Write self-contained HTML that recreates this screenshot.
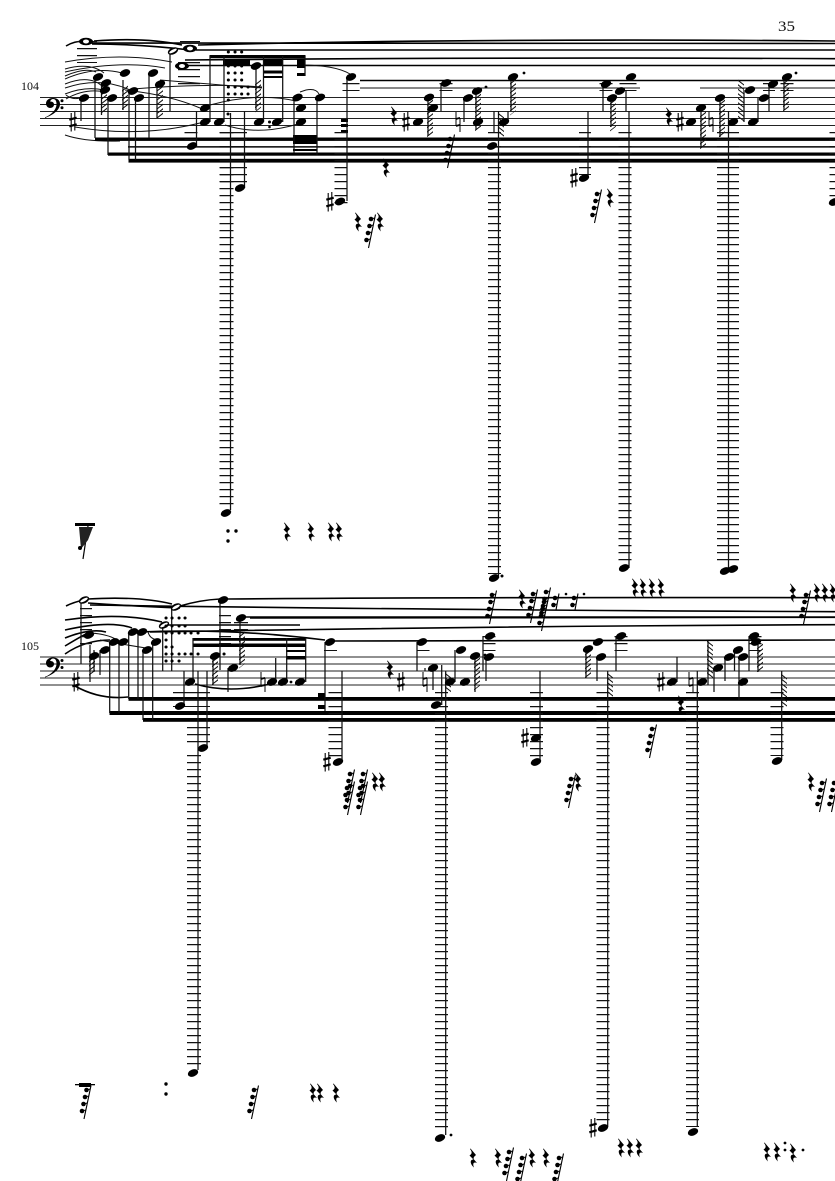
<!DOCTYPE html>
<html><head><meta charset="utf-8"><style>
html,body{margin:0;padding:0;background:#fff;width:835px;height:1181px;overflow:hidden}
svg{display:block}
.s{stroke:#111;stroke-width:1.25;fill:none}
.st{stroke:#222;stroke-width:1.1;fill:none}
.b{fill:#000}
.t{stroke:#111;stroke-width:1;fill:none}
.tt{stroke:#000;stroke-width:1.6;fill:none}
.l{stroke:#111;stroke-width:1.25;stroke-dasharray:1.25 5.75;fill:none}
.h{stroke:#111;stroke-width:6;stroke-dasharray:1.3 3.2;fill:none}
text{font-family:"Liberation Serif",serif;fill:#111}
</style></head><body>
<svg width="835" height="1181" viewBox="0 0 835 1181" xmlns="http://www.w3.org/2000/svg">
<defs>
<ellipse id="n" rx="5.400" ry="3.500" transform="rotate(-22)"/>
<g id="w"><ellipse rx="7" ry="3.700" fill="#000"/><ellipse rx="3" ry="2" fill="#fff"/></g>
<g id="hf"><ellipse rx="5.500" ry="3.300" transform="rotate(-25)" fill="#000"/><ellipse rx="4.200" ry="1.400" transform="rotate(-28)" fill="#fff"/></g>
<path id="r" d="M-2.500 -9.500L3 -3C1 -1.500 0 0 1 1.500L4 5C1.500 3.800 -1 4.500 1 9.500C-3 6 -3.500 1.500 .5 1.500L-3.500 -2.500C-1 -4 -.5 -6 -3 -9Z"/>
<g id="q"><path d="M5.500 -16.500L-1.500 17M4.800 -13L1 -12M3.300 -6L-.5 -5M1.800 1L-2 2M.3 8L-3.500 9" stroke="#000" stroke-width="1.100" fill="none"/><circle cx="1" cy="-12" r="2.300"/><circle cx="-.5" cy="-5" r="2.300"/><circle cx="-2" cy="2" r="2.300"/><circle cx="-3.500" cy="9" r="2.300"/></g>
<g id="q2"><path d="M3 -8.500L0 8M2.300 -5L-1 -4M.8 2L-2.500 3" stroke="#000" stroke-width="1.100" fill="none"/><circle cx="-1" cy="-4" r="2.300"/><circle cx="-2.500" cy="3" r="2.300"/></g>
<g id="sh" stroke="#000" fill="none"><path d="M-1.800 -9V9.500M1.800 -10V8.500" stroke-width="1.100"/><path d="M-3.700 -2.300L3.700 -4.300M-3.700 4.300L3.700 2.300" stroke-width="2.200"/></g>
<g id="na" stroke="#000" fill="none"><path d="M-2 -10V4M2 -4V10" stroke-width="1"/><path d="M-2 -3L2 -4.200M-2 4L2 2.800" stroke-width="1.800"/></g>
<path id="clef" d="M0 13C8 10 15 5 15 -1C15 -5 12 -7 8 -7C3 -7 1 -4 1 -1.500C1 1 3 3 5 3C7.500 3 9 1.500 9 -.5C9 -2.500 7.500 -3.500 5 -3.500C6 -5.500 7 -6 8 -6C10.500 -6 11.500 -4 11.500 -1C11.500 5 6 10 0 12.300Z"/>
</defs>

<text x="778" y="31" font-size="15" textLength="17" lengthAdjust="spacingAndGlyphs">35</text>
<text x="21" y="90" font-size="11.500" textLength="18" lengthAdjust="spacingAndGlyphs">104</text>
<text x="21" y="650" font-size="11.500" textLength="18" lengthAdjust="spacingAndGlyphs">105</text>

<!-- staves -->
<path class="st" d="M40 97.500H835M40 104.500H835M40 111.500H835M40 118.500H835M40 125.500H835"/>
<path class="st" d="M40 657H835M40 664H835M40 671H835M40 678H835M40 685H835"/>
<use href="#clef" x="45" y="105" class="b"/><circle cx="62" cy="100.800" r="1.500"/><circle cx="62" cy="107.800" r="1.500"/>
<use href="#clef" x="45" y="664.500" class="b"/><circle cx="62" cy="660.500" r="1.500"/><circle cx="62" cy="667.500" r="1.500"/>

<!-- long ties system 1 -->
<path class="tt" d="M198 45Q480 38 835 41M90 43Q420 43 835 43.500M196 50H835M185 60Q500 57 835 58.700M182 65.500H835M360 80.500H835"/>
<path class="t" d="M360 88H640M700 88H835"/>
<path class="tt" d="M66 46Q74 41 85 41M94 41Q145 37 182 45M92 44Q140 44 190 50"/>
<path class="t" d="M65 62Q120 52 172 62M65 69Q90 62 104 73M65 72Q120 60 165 68M65 76Q85 67 96 72M65 79Q95 66 122 73M65 84Q90 74 103 87M65 88Q100 76 130 90M65 94Q85 86 104 90M66 99Q85 88 105 92M66 95Q72 100 80 98M133 89Q210 83 262 87M160 80Q220 85 262 88M75 127Q140 138 200 123M65 135Q85 142 120 141M125 90Q170 95 200 108M210 105Q258 92 296 101M225 125Q258 136 298 124M300 65Q335 65 350 74M300 92L306 90M306 90Q316 88 319 94"/>
<!-- beams system 1 -->
<rect class="b" x="95" y="137.500" width="740" height="3.400"/>
<rect x="128" y="146" width="707" height="1.700" fill="#222"/>
<rect class="b" x="108" y="152.500" width="727" height="3.200"/>
<rect class="b" x="128.500" y="158.800" width="706.500" height="3.800"/>
<rect class="b" x="209.500" y="55" width="96" height="3.200"/>
<rect class="b" x="223" y="60" width="27" height="5"/>
<rect class="b" x="263" y="60" width="20" height="6"/>
<rect class="b" x="263" y="70.500" width="20" height="3"/>
<rect class="b" x="263" y="76" width="20" height="2"/>
<rect class="b" x="297" y="59" width="8" height="9"/>
<rect class="b" x="297" y="73" width="8" height="3"/>
<rect class="b" x="293" y="135" width="24" height="9"/>
<rect class="b" x="293" y="149" width="24" height="2"/>
<rect class="b" x="341" y="119" width="7" height="3"/><rect class="b" x="341" y="124" width="7" height="3"/><rect class="b" x="341" y="130" width="7" height="3"/>
<!-- stems s1 -->
<path class="s" d="M81 98V121M95 77V138M108 98V155M129 91V160M135.500 98V160M149 73V138M170 51V111M196.500 111V146M210 56V122M224 56V122M230.500 113V510M244.500 111V188M263.500 56V122M282.700 56V122M305 56V76M294 97V153M317 97V155M347 77V201M441 83V111M464 98V122M498.500 111V578M494 111V132M588 111V178M603 84V111M626 91V111M629 111V568M728.500 111V570M744 90V122M758 98V122M769 84V111M508 111V122"/>
<!-- hash stems s1 -->
<path class="s" d="M101.500 83V115M123 80V110M157 84V118M428 97V136M476 91V130M511 77V111M611 98V127M701 108V148M720 98V137M784 77V110M256 66V110"/>
<g>
<path class="h" transform="translate(104,100) skewY(-38)" d="M0 -8V12"/>
<path class="h" transform="translate(125,98) skewY(-38)" d="M0 -10V12"/>
<path class="h" transform="translate(160,100) skewY(-38)" d="M0 -12V18"/>
<path class="h" transform="translate(430,120) skewY(-38)" d="M0 -18V17"/>
<path class="h" transform="translate(478,112) skewY(-38)" d="M0 -16V20"/>
<path class="h" transform="translate(513,95) skewY(-38)" d="M0 -14V18"/>
<path class="h" transform="translate(613,115) skewY(-38)" d="M0 -14V14"/>
<path class="h" transform="translate(703,130) skewY(-38)" d="M0 -16V19"/>
<path class="h" transform="translate(722,120) skewY(-38)" d="M0 -18V18"/>
<path class="h" transform="translate(786,95) skewY(-38)" d="M0 -14V17"/>
<path class="h" transform="translate(258,92) skewY(-38)" d="M0 -10V18"/>
<path class="h" transform="translate(741,100) skewY(38)" d="M0 -18V20"/>
<path class="h" transform="translate(501,125) skewY(38)" d="M0 -10V10"/>
</g>
<!-- ledgers s1 -->
<path class="l" style="stroke-width:20" d="M87 41V63"/>
<path class="l" style="stroke-width:20" d="M190 41V48"/>
<path class="l" style="stroke-width:22" d="M189 62V90"/>
<path class="l" style="stroke-width:13" d="M191 132V140"/>
<path class="l" style="stroke-width:14" d="M226.500 132V510"/>
<path class="l" style="stroke-width:27" d="M233.500 132V186"/>
<path class="l" style="stroke-width:17" d="M351 83V91"/>
<path class="l" style="stroke-width:13" d="M341 132V205"/>
<path class="l" style="stroke-width:13" d="M446 83V91"/>
<path class="l" style="stroke-width:13" d="M494.500 132V574"/>
<path class="l" style="stroke-width:12" d="M585 132V175"/>
<path class="l" style="stroke-width:13" d="M606 83V91"/>
<path class="l" style="stroke-width:17" d="M628 83V91"/>
<path class="l" style="stroke-width:13" d="M625 132V564"/>
<path class="l" style="stroke-width:22" d="M728 132V566"/>
<path class="l" style="stroke-width:12" d="M769 83V91"/>
<path class="l" style="stroke-width:13" d="M787 83V91"/>
<path class="l" style="stroke-width:13" d="M836 132V205"/>
<!-- notes s1 -->
<g class="b">
<use href="#n" x="98" y="77"/><use href="#n" x="106" y="83"/><use href="#n" x="105" y="90"/><use href="#n" x="125" y="73"/><use href="#n" x="133" y="91"/><use href="#n" x="153" y="73"/><use href="#n" x="160" y="84"/><use href="#n" x="84" y="98"/><use href="#n" x="112" y="98"/><use href="#n" x="139" y="98"/>
<use href="#n" x="205" y="108"/><use href="#n" x="205" y="122"/><use href="#n" x="219" y="122"/><use href="#n" x="192" y="146"/><use href="#n" x="240" y="188"/><use href="#n" x="226" y="513"/><use href="#n" x="256" y="66"/><use href="#n" x="259" y="122"/><use href="#n" x="277" y="122"/><use href="#n" x="297.500" y="97.500"/><use href="#n" x="301" y="108"/><use href="#n" x="301" y="122"/><use href="#n" x="320" y="97.500"/><use href="#n" x="351" y="77"/><use href="#n" x="340" y="201.500"/>
<use href="#n" x="418" y="122"/><use href="#n" x="429" y="97.500"/><use href="#n" x="433" y="108"/><use href="#n" x="446" y="83"/><use href="#n" x="468" y="98"/><use href="#n" x="477" y="91"/><use href="#n" x="478" y="122"/><use href="#n" x="504" y="122"/><use href="#n" x="492" y="146"/><use href="#n" x="513" y="77"/><use href="#n" x="494" y="578"/>
<use href="#n" x="584" y="178"/><use href="#n" x="606" y="84"/><use href="#n" x="620" y="91"/><use href="#n" x="631" y="77"/><use href="#n" x="612" y="98"/><use href="#n" x="624" y="568"/>
<use href="#n" x="691" y="122"/><use href="#n" x="701" y="108"/><use href="#n" x="720" y="98"/><use href="#n" x="733" y="122"/><use href="#n" x="725" y="571"/><use href="#n" x="733" y="569"/><use href="#n" x="750" y="90"/><use href="#n" x="753" y="122"/><use href="#n" x="764" y="98"/><use href="#n" x="773" y="84"/><use href="#n" x="787" y="77"/><use href="#n" x="834" y="202"/>
<circle cx="486" cy="87" r="1.400"/><circle cx="524" cy="73" r="1.400"/><circle cx="796" cy="73" r="1.400"/><circle cx="502" cy="576" r="1.500"/><circle cx="269.500" cy="122" r="1.500"/><circle cx="269.500" cy="127" r="1.300"/><circle cx="228" cy="114" r="1.500"/>
</g>
<use href="#w" x="86" y="41.500"/><use href="#w" x="190" y="48.500"/><use href="#hf" x="173" y="51"/><use href="#w" x="182" y="66"/>
<use href="#sh" x="73" y="122"/><use href="#sh" x="330" y="202"/><use href="#sh" x="406" y="122"/><use href="#sh" x="574" y="178"/><use href="#sh" x="680" y="122"/>
<use href="#na" x="458" y="122"/><use href="#na" x="711" y="122"/>
<g class="b">
<use href="#r" x="394" y="116"/><use href="#r" x="386" y="168"/><use href="#r" x="358" y="222"/><use href="#r" x="380" y="222"/><use href="#r" x="610" y="198"/><use href="#r" x="669" y="117"/>
<use href="#q" x="449" y="151"/><use href="#q" x="370" y="231"/><use href="#q" x="596" y="206"/>
<!-- dot grid s1 -->
<path d="M228.300 52h.1M235 52h.1M241.600 52h.1M228.300 73h.1M235 73h.1M241.600 73h.1M228.300 80h.1M235 80h.1M241.600 80h.1M228.300 87h.1M235 87h.1M241.600 87h.1M248 87h.1M228.300 94h.1M235 94h.1M241.600 94h.1M248 94h.1M228.300 100h.1M228.300 66h.1M235 66h.1M241.600 66h.1" stroke="#000" stroke-width="3" stroke-linecap="round" fill="none"/>
<!-- bottom of s1 -->
<rect x="75" y="523" width="20" height="3"/>
<path d="M88 526L83 559" stroke="#000" stroke-width="1.200"/>
<path d="M79 527L93 527L88 540L81 549Z" fill="#222"/>
<circle cx="80" cy="548" r="2"/>
<circle cx="228" cy="531" r="1.700"/><circle cx="236" cy="531" r="1.700"/><circle cx="228" cy="541" r="1.700"/>
<use href="#r" x="287" y="532"/><use href="#r" x="311" y="532"/><use href="#r" x="331" y="532"/><use href="#r" x="339" y="532"/>
</g>

<!-- long ties system 2 -->
<path class="tt" d="M180 606Q200 600 220 599M228 599Q500 597 835 597.700M90 605Q420 610 835 611.700M245 617H835M163 625H300M250 618Q500 618 835 617.300M150 632Q500 626 835 624.700M330 641L835 640"/>
<path class="tt" d="M66 606Q74 602 84 600M88 599Q140 596 172 604M88 603Q130 606 180 608M65 620Q120 612 162 622M65 630Q110 620 132 628M65 638Q90 628 106 632M65 646Q85 634 90 632M65 654Q85 640 110 640M75 686Q100 700 128 697M195 684Q230 694 270 684M138 632Q230 628 325 640"/>
<path class="t" d="M90 633Q110 634 120 642M100 640Q120 644 146 648M148 632Q150 640 160 640"/>
<!-- beams s2 -->
<rect class="b" x="128.500" y="697" width="706.500" height="3.800"/>
<rect class="b" x="109.500" y="711" width="725.500" height="4"/>
<rect class="b" x="143" y="718" width="692" height="3.800"/>
<rect class="b" x="193" y="638" width="113" height="2.800"/>
<rect class="b" x="193" y="643.500" width="113" height="3.500"/>
<rect class="b" x="286" y="650" width="20" height="2"/>
<rect class="b" x="286" y="656" width="20" height="3.500"/>
<rect class="b" x="318" y="693" width="7" height="7"/><rect class="b" x="318" y="705" width="7" height="4"/>
<!-- stems s2 -->
<path class="s" d="M81 600V664M90 645V682M100 650V675M109.700 642V713M119 642V713M128.700 632V699M138 632V699M143 650V720M152.700 642V720M162.700 625V671M171.700 607V671M193 638V682M184 671V706M198 671V1070M207 671V748M228 668V692M220 600V670M275.700 658V682M286.700 638V682M305.700 638V682M325 642V711M342 671V762M417 642V671M441.700 665V705M445.700 671V1135M455 650V682M483 636V671M486 657V681M597 657V681M616 636V671M607.700 671V1127M540 671V762M677 657V682M697.300 671V1127M714 668V692M725 657V681M734.500 650V671M739 660V700M749 636V671M781.700 671V760M425 668V671M433 668V690"/>
<path class="s" d="M94 650V672M213 656V685M240 618V665M475 656V692M586 646V678M708 641V685M758 642V672"/>
<g>
<path class="h" transform="translate(92,664) skewY(-38)" d="M0 -10V10"/>
<path class="h" transform="translate(215,672) skewY(-38)" d="M0 -13V13"/>
<path class="h" transform="translate(242,650) skewY(-38)" d="M0 -16V16"/>
<path class="h" transform="translate(477,674) skewY(-38)" d="M0 -14V14"/>
<path class="h" transform="translate(588,664) skewY(-38)" d="M0 -12V12"/>
<path class="h" transform="translate(760,658) skewY(-38)" d="M0 -12V12"/>
<path class="h" transform="translate(710,660) skewY(38)" d="M0 -17V19"/>
<path class="h" transform="translate(448,684) skewY(38)" d="M0 -9V9"/>
<path class="h" transform="translate(610,686) skewY(38)" d="M0 -11V11"/>
<path class="h" transform="translate(784,690) skewY(38)" d="M0 -14V16"/>
</g>
<!-- ledgers s2 -->
<path class="l" style="stroke-width:12" d="M86 608V650"/>
<path class="l" style="stroke-width:12" d="M225 615V650"/>
<path class="l" style="stroke-width:14" d="M241 622V636"/>
<path class="l" style="stroke-width:37" d="M191.500 692V707"/>
<path class="l" style="stroke-width:23" d="M198.500 727V748"/>
<path class="l" style="stroke-width:14" d="M194 755V1070"/>
<path class="l" style="stroke-width:13" d="M330.500 650V651"/>
<path class="l" style="stroke-width:13" d="M335 692V760"/>
<path class="l" style="stroke-width:13" d="M423 650V651"/>
<path class="l" style="stroke-width:13" d="M441.500 692V1132"/>
<path class="l" style="stroke-width:13" d="M489 636V651"/>
<path class="l" style="stroke-width:13" d="M536.500 692V760"/>
<path class="l" style="stroke-width:13" d="M603 692V1123"/>
<path class="l" style="stroke-width:13" d="M621 636V651"/>
<path class="l" style="stroke-width:13" d="M692.500 692V1127"/>
<path class="l" style="stroke-width:13" d="M755 636V651"/>
<path class="l" style="stroke-width:13" d="M777 692V756"/>
<!-- notes s2 -->
<g class="b">
<use href="#n" x="223" y="600"/><use href="#n" x="241" y="618"/><use href="#n" x="89" y="635"/><use href="#n" x="94" y="656"/><use href="#n" x="105" y="650"/><use href="#n" x="114" y="642"/><use href="#n" x="123" y="642"/><use href="#n" x="133" y="632"/><use href="#n" x="142" y="632"/><use href="#n" x="147" y="650"/><use href="#n" x="156" y="642"/><use href="#n" x="190" y="682"/><use href="#n" x="180" y="706"/><use href="#n" x="203" y="748"/><use href="#n" x="215" y="656"/><use href="#n" x="233" y="668"/><use href="#n" x="272" y="682"/><use href="#n" x="283" y="682"/><use href="#n" x="300" y="682"/><use href="#n" x="330" y="642"/><use href="#n" x="338" y="762"/><use href="#n" x="193" y="1073"/>
<use href="#n" x="422" y="642"/><use href="#n" x="433" y="668"/><use href="#n" x="450" y="682"/><use href="#n" x="461" y="650"/><use href="#n" x="465" y="682"/><use href="#n" x="475" y="656"/><use href="#n" x="490" y="636"/><use href="#n" x="489" y="657"/><use href="#n" x="436" y="705"/><use href="#n" x="440" y="1138"/>
<use href="#n" x="536" y="762"/><use href="#n" x="536" y="738"/><use href="#n" x="588" y="649"/><use href="#n" x="598" y="642"/><use href="#n" x="601" y="657"/><use href="#n" x="621" y="636"/><use href="#n" x="603" y="1128"/><use href="#n" x="672" y="682"/><use href="#n" x="702" y="682"/><use href="#n" x="718" y="668"/><use href="#n" x="729" y="657"/><use href="#n" x="738" y="650"/><use href="#n" x="743" y="657"/><use href="#n" x="743" y="682"/><use href="#n" x="754" y="636"/><use href="#n" x="756" y="642"/><use href="#n" x="693" y="1132"/><use href="#n" x="777" y="761"/>
<circle cx="451" cy="1135" r="1.400"/><circle cx="485" cy="655" r="1.400"/><circle cx="291" cy="682" r="1.400"/>
</g>
<use href="#hf" x="84" y="600"/><use href="#hf" x="176" y="607"/><use href="#hf" x="164" y="625"/>
<use href="#sh" x="76" y="682"/><use href="#sh" x="401" y="682"/><use href="#sh" x="327" y="762"/><use href="#sh" x="525" y="738"/><use href="#sh" x="593" y="1128"/><use href="#sh" x="661" y="682"/>
<use href="#na" x="263" y="682"/><use href="#na" x="425" y="682"/><use href="#na" x="691" y="682"/>
<g class="b">
<use href="#r" x="390" y="670"/><use href="#r" x="681" y="705"/>
<use href="#q" x="491" y="607"/><use href="#r" x="522" y="599"/><use href="#q" x="532" y="606"/><use href="#q" x="545" y="604"/><use href="#q" x="543" y="614"/><use href="#q2" x="556" y="602"/><use href="#q2" x="575" y="602"/>
<circle cx="566" cy="594" r="1.300"/><circle cx="584" cy="594" r="1.300"/>
<use href="#r" x="635" y="588"/><use href="#r" x="643" y="588"/><use href="#r" x="652" y="588"/><use href="#r" x="661" y="588"/>
<use href="#r" x="793" y="593"/><use href="#q" x="805" y="607"/><use href="#r" x="817" y="593"/><use href="#r" x="825" y="593"/><use href="#r" x="833" y="593"/>
<use href="#q" x="651" y="741"/><use href="#q" x="570" y="791"/><use href="#r" x="578" y="782"/>
<use href="#r" x="811" y="782"/><use href="#q" x="821" y="795"/><use href="#q" x="833" y="795"/>
<use href="#q" x="349" y="786"/><use href="#q" x="349" y="798"/><use href="#q" x="362" y="786"/><use href="#q" x="362" y="798"/><use href="#r" x="375" y="782"/><use href="#r" x="382" y="782"/>
<!-- dot grid s2 -->
<path d="M166 618h.1M172 618h.1M179 618h.1M185 618h.1M166 626h.1M172 626h.1M179 626h.1M185 626h.1M166 633h.1M172 633h.1M179 633h.1M185 633h.1M191 633h.1M198 633h.1M166 640h.1M166 647h.1M172 647h.1M166 654h.1M172 654h.1M179 654h.1M185 654h.1M191 654h.1M198 654h.1M166 661h.1M172 661h.1M179 661h.1M224 654h.1" stroke="#000" stroke-width="3" stroke-linecap="round" fill="none"/>
<!-- bottom of s2 -->
<rect x="75" y="1084" width="20" height="1.300"/><rect x="79" y="1083" width="12" height="4"/>
<use href="#q" x="85.500" y="1102"/>
<circle cx="166" cy="1084" r="1.700"/><circle cx="166" cy="1094" r="1.700"/>
<use href="#q" x="253" y="1102"/>
<use href="#r" x="313" y="1093"/><use href="#r" x="320" y="1093"/><use href="#r" x="336" y="1093"/>
<use href="#r" x="473" y="1158"/><use href="#r" x="498" y="1158"/><use href="#q" x="508" y="1164"/><use href="#q" x="521" y="1170"/><use href="#r" x="532" y="1158"/><use href="#r" x="546" y="1158"/><use href="#q" x="558" y="1170"/>
<use href="#r" x="621" y="1148"/><use href="#r" x="630" y="1148"/><use href="#r" x="639" y="1148"/>
<use href="#r" x="767" y="1152"/><use href="#r" x="777" y="1152"/><circle cx="785" cy="1143" r="1.400"/><circle cx="785" cy="1150" r="1.400"/><use href="#r" x="793" y="1153"/><circle cx="803" cy="1150" r="1.400"/>
</g>
</svg>
</body></html>
